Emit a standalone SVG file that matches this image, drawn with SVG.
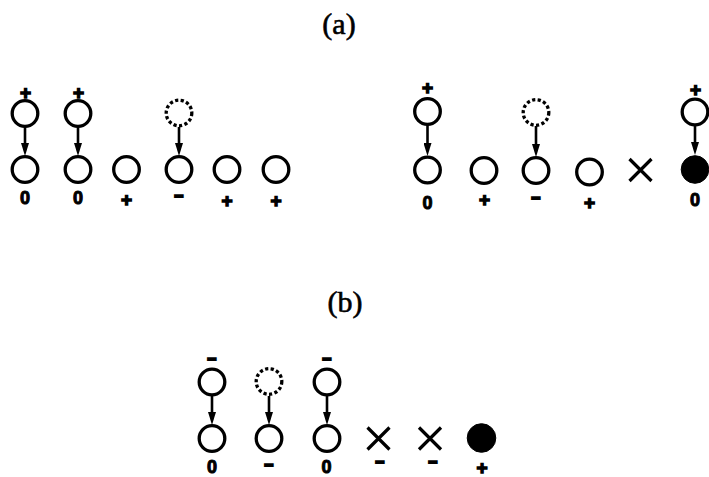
<svg xmlns="http://www.w3.org/2000/svg" width="709" height="477" viewBox="0 0 709 477">
<defs>
<style>
.c{fill:none;stroke:#000;stroke-width:3.3}
.d{fill:none;stroke:#000;stroke-width:3.3;stroke-dasharray:3.2 2.4}
.f{fill:#000;stroke:#000;stroke-width:1}
.x{stroke:#000;stroke-width:3.2;fill:none}
.l{font-family:"Liberation Sans",Arial,sans-serif;font-weight:bold;font-size:18px;text-anchor:middle;fill:#000;stroke:#000;stroke-width:1}
.p{font-size:19px;stroke-width:1.4}
.m{font-size:15px;stroke-width:2.2}
.t{font-family:"Liberation Serif","Times New Roman",serif;font-size:30px;text-anchor:middle;fill:#000;stroke:#000;stroke-width:0.6}
.a{stroke:#000;stroke-width:2.6;fill:none;marker-end:url(#ah)}
</style>
<marker id="ah" markerUnits="userSpaceOnUse" markerWidth="13" markerHeight="8" refX="3" refY="4" orient="auto">
<path d="M0,0 L13,4 L0,8 z" fill="#000"/>
</marker>
</defs>
<rect width="709" height="477" fill="#fff"/>
<text class="t" x="339" y="34">(a)</text>
<text class="t" x="345" y="312">(b)</text>

<g id="connectors">
<line class="a" x1="25" y1="127" x2="25" y2="146"/>
<line class="a" x1="78" y1="127" x2="78" y2="146"/>
<line class="a" x1="179" y1="127" x2="179" y2="146"/>
<line class="a" x1="427.5" y1="125" x2="427.5" y2="146"/>
<line class="a" x1="536" y1="126" x2="536" y2="147"/>
<line class="a" x1="695" y1="126" x2="695" y2="145"/>
<line class="a" x1="212" y1="396" x2="212" y2="415"/>
<line class="a" x1="269" y1="396" x2="269" y2="415"/>
<line class="a" x1="327" y1="396" x2="327" y2="415"/>
</g>

<g id="a1"><text class="l p" x="25.5" y="98.5">+</text><circle class="c" cx="25" cy="113.5" r="12.8"/><circle class="c" cx="25" cy="169.5" r="12.8"/><text class="l" x="25" y="203.5">0</text></g>
<g id="a2"><text class="l p" x="78.5" y="98.5">+</text><circle class="c" cx="78" cy="113.5" r="12.8"/><circle class="c" cx="78" cy="169.5" r="12.8"/><text class="l" x="78" y="203.5">0</text></g>
<g id="a3"><circle class="c" cx="126.5" cy="169.5" r="12.8"/><text class="l p" x="126.5" y="205.5">+</text></g>
<g id="a4"><circle class="d" cx="179" cy="113" r="12.8"/><circle class="c" cx="179" cy="169.5" r="12.8"/><text class="l m" x="179" y="200.5">−</text></g>
<g id="a5"><circle class="c" cx="227" cy="169.5" r="12.8"/><text class="l p" x="227" y="206.5">+</text></g>
<g id="a6"><circle class="c" cx="276" cy="169.5" r="12.8"/><text class="l p" x="276" y="206.5">+</text></g>

<g id="a7"><text class="l p" x="427.5" y="93.5">+</text><circle class="c" cx="427.5" cy="111.5" r="12.8"/><circle class="c" cx="427.5" cy="170" r="12.8"/><text class="l" x="427.5" y="209">0</text></g>
<g id="a8"><circle class="c" cx="484" cy="170.5" r="12.8"/><text class="l p" x="484.5" y="205.5">+</text></g>
<g id="a9"><circle class="d" cx="536" cy="112.5" r="12.8"/><circle class="c" cx="536" cy="170.5" r="12.8"/><text class="l m" x="536" y="203">−</text></g>
<g id="a10"><circle class="c" cx="589.5" cy="172" r="12.8"/><text class="l p" x="589.5" y="208.5">+</text></g>
<g id="a11"><path class="x" d="M629.5,159 L651.5,181 M651.5,159 L629.5,181"/></g>
<g id="a12"><text class="l p" x="695.5" y="96">+</text><circle class="c" cx="695" cy="112" r="12.8"/><circle class="f" cx="695" cy="169.5" r="13.8"/><text class="l" x="695" y="205.5">0</text></g>

<g id="b1"><text class="l m" x="212" y="364">−</text><circle class="c" cx="212" cy="382" r="12.8"/><circle class="c" cx="212" cy="438.5" r="12.8"/><text class="l" x="212" y="473">0</text></g>
<g id="b2"><circle class="d" cx="269" cy="381.5" r="12.8"/><circle class="c" cx="269" cy="438.5" r="12.8"/><text class="l m" x="269" y="470">−</text></g>
<g id="b3"><text class="l m" x="327" y="364">−</text><circle class="c" cx="327" cy="382" r="12.8"/><circle class="c" cx="327" cy="438.5" r="12.8"/><text class="l" x="326.5" y="473">0</text></g>
<g id="b4"><path class="x" d="M367.5,427.5 L389.5,449.5 M389.5,427.5 L367.5,449.5"/><text class="l m" x="380" y="467">−</text></g>
<g id="b5"><path class="x" d="M419,427.5 L441,449.5 M441,427.5 L419,449.5"/><text class="l m" x="433" y="467">−</text></g>
<g id="b6"><circle class="f" cx="481.5" cy="438" r="14.3"/><text class="l p" x="482" y="474">+</text></g>
</svg>
